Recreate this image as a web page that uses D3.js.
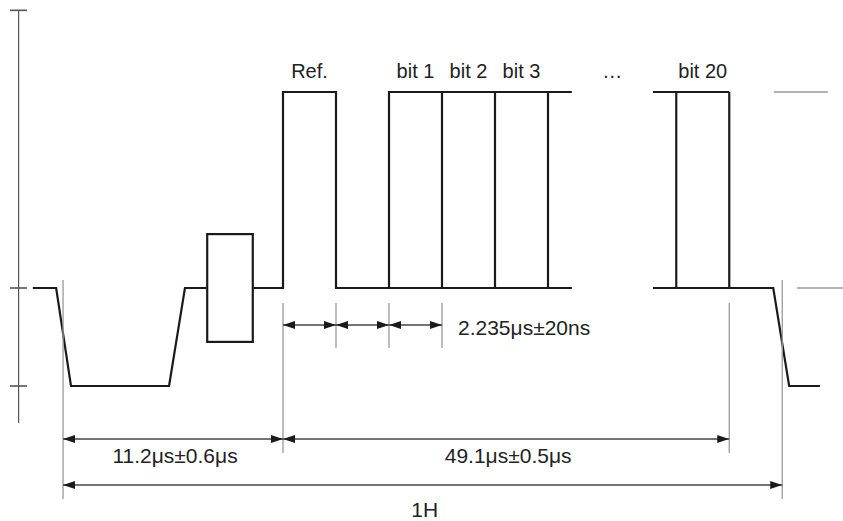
<!DOCTYPE html>
<html>
<head>
<meta charset="utf-8">
<script src="https://cdn.jsdelivr.net/npm/d3@7"></script>
<style>
  body { margin: 0; background: #fff; }
  text { font-family: "Liberation Sans", Arial, sans-serif; fill: #222; }
</style>
</head>
<body>
<div id="vis"></div>
<script>
// time in bit periods (0 = start of Ref. pulse), level in volts (0 = blanking)
const syncPart = [[-4.72, 0], [-4.28, 0], [-4.0, -0.3], [-2.15, -0.3], [-1.85, 0], [-1.43, 0]];
const burst = {t0: -1.43, t1: -0.57, lo: -0.165, hi: 0.165};
const refPart = [[-0.57, 0], [0, 0], [0, 0.6], [1, 0.6], [1, 0], [5.45, 0]];
const bitsTop = [[2, 0], [2, 0.6], [5.45, 0.6]];
const bitEdges = [3, 4, 5, 7.42, 8.42];
const tailTop = [[6.98, 0.6], [8.42, 0.6]];
const tailBottom = [[6.98, 0], [9.25, 0], [9.55, -0.3], [10.13, -0.3]];

const bitLabels = ['Ref.', 'bit 1', 'bit 2', 'bit 3', '…', 'bit 20'];
const bitLabelPos = [0.5, 2.5, 3.5, 4.5, 6.21, 7.92];

const axisTicks = [0.85, 0, -0.3];
const refLines = [[9.26, 10.28, 0.6], [9.7, 10.57, 0]];

const bitArrows = [[0, 1], [1, 2], [2, 3]];
const bitText = '2.235μs±20ns';
const spans = [
  {t0: -4.15, t1: 0, label: '11.2μs±0.6μs', row: 0},
  {t0: 0, t1: 8.42, label: '49.1μs±0.5μs', row: 0},
  {t0: -4.15, t1: 9.42, label: '1H', row: 1}
];

const width = 843;
const height = 521;

const x = d3.scaleLinear().domain([0, 1]).range([283, 336]);
const y = d3.scaleLinear().domain([-0.3, 0]).range([386, 288]);

const svg = d3.select('#vis').append('svg')
    .attr('width', width)
    .attr('height', height)
    .style('display', 'block');

const defs = svg.append('defs');
defs.append('marker')
    .attr('id', 'arr')
    .attr('viewBox', '0 0 12 8')
    .attr('refX', 12)
    .attr('refY', 4)
    .attr('markerWidth', 12)
    .attr('markerHeight', 8)
    .attr('markerUnits', 'userSpaceOnUse')
    .attr('orient', 'auto-start-reverse')
  .append('path')
    .attr('d', 'M0,0L12,4L0,8Z')
    .attr('fill', '#1a1a1a');

// left level axis
svg.append('rect')
    .attr('x', 18).attr('width', 1.2)
    .attr('y', y(0.85)).attr('height', 423 - y(0.85))
    .attr('fill', '#555');
svg.selectAll('.lvl')
  .data(axisTicks)
  .join('rect')
    .attr('class', 'lvl')
    .attr('x', 10).attr('width', 17)
    .attr('y', d => y(d) - 0.8).attr('height', 1.6)
    .attr('fill', '#555');

const line = d3.line()
    .x(d => x(d[0]))
    .y(d => y(d[1]));

const sig = svg.append('g')
    .attr('fill', 'none')
    .attr('stroke', '#1a1a1a')
    .attr('stroke-width', 2.2)
    .attr('stroke-linejoin', 'miter');

sig.selectAll('path')
  .data([syncPart, refPart, bitsTop, tailTop, tailBottom])
  .join('path')
    .attr('d', line);

sig.append('rect')
    .attr('x', x(burst.t0))
    .attr('y', y(burst.hi))
    .attr('width', x(burst.t1) - x(burst.t0))
    .attr('height', y(burst.lo) - y(burst.hi));

sig.selectAll('.edge')
  .data(bitEdges)
  .join('line')
    .attr('class', 'edge')
    .attr('x1', d => x(d)).attr('x2', d => x(d))
    .attr('y1', y(0)).attr('y2', y(0.6));

// thin reference lines on the right
svg.selectAll('.ref')
  .data(refLines)
  .join('line')
    .attr('class', 'ref')
    .attr('x1', d => x(d[0])).attr('x2', d => x(d[1]))
    .attr('y1', d => y(d[2])).attr('y2', d => y(d[2]))
    .attr('stroke', '#999').attr('stroke-width', 1.3);

svg.selectAll('.blabel')
  .data(bitLabels)
  .join('text')
    .attr('class', 'blabel')
    .attr('x', (d, i) => x(bitLabelPos[i]))
    .attr('y', y(0.6) - 14)
    .attr('text-anchor', 'middle')
    .attr('font-size', 20)
    .text(d => d);

// dimension lines
const dim = svg.append('g')
    .attr('stroke', '#999')
    .attr('stroke-width', 1.3);

const ext = [
  [-4.15, 280, 499], [0, 303, 453], [1, 303, 348], [2, 303, 348], [3, 303, 348],
  [8.42, 303, 453], [9.42, 280, 499]
];
dim.selectAll('line')
  .data(ext)
  .join('line')
    .attr('x1', d => x(d[0])).attr('x2', d => x(d[0]))
    .attr('y1', d => d[1]).attr('y2', d => d[2]);

const arrows = svg.append('g')
    .attr('stroke', '#444')
    .attr('stroke-width', 1.3);

arrows.selectAll('.ba')
  .data(bitArrows)
  .join('line')
    .attr('class', 'ba')
    .attr('x1', d => x(d[0])).attr('x2', d => x(d[1]))
    .attr('y1', 325).attr('y2', 325)
    .attr('marker-start', 'url(#arr)')
    .attr('marker-end', 'url(#arr)');

svg.append('text')
    .attr('x', 458)
    .attr('y', 335)
    .attr('font-size', 21)
    .text(bitText);

const rowY = [439, 485];
const rowText = [463, 517];

arrows.selectAll('.sa')
  .data(spans)
  .join('line')
    .attr('class', 'sa')
    .attr('x1', d => x(d.t0)).attr('x2', d => x(d.t1))
    .attr('y1', d => rowY[d.row]).attr('y2', d => rowY[d.row])
    .attr('marker-start', 'url(#arr)')
    .attr('marker-end', 'url(#arr)');

svg.selectAll('.slabel')
  .data(spans)
  .join('text')
    .attr('class', 'slabel')
    .attr('x', d => (x(d.t0) + x(d.t1)) / 2 + 2)
    .attr('y', d => rowText[d.row])
    .attr('text-anchor', 'middle')
    .attr('font-size', 21)
    .text(d => d.label);
</script>
</body>
</html>
